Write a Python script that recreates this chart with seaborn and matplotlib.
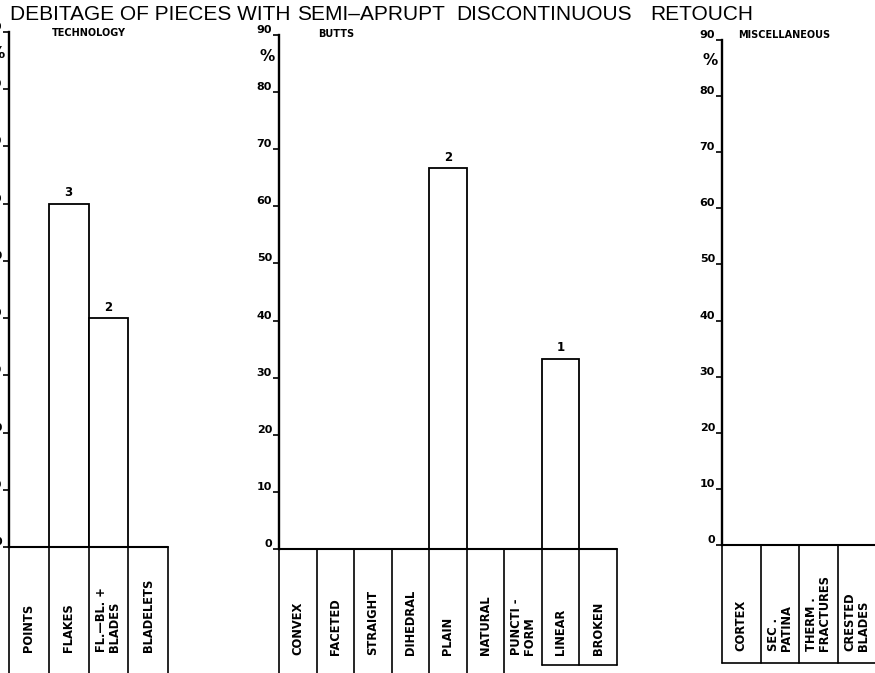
import matplotlib
matplotlib.use("Agg")
import matplotlib.pyplot as plt
import seaborn as sns

# ---- data -------------------------------------------------------------
tech_cats = ["POINTS", "FLAKES", "FL.—BL. +\nBLADES", "BLADELETS"]
tech_counts = [0, 3, 2, 0]

butt_cats = ["CONVEX", "FACETED", "STRAIGHT", "DIHEDRAL", "PLAIN",
             "NATURAL", "PUNCTI -\nFORM", "LINEAR", "BROKEN"]
butt_counts = [0, 0, 0, 0, 2, 0, 0, 1, 0]

misc_cats = ["CORTEX", "SEC .\nPATINA", "THERM .\nFRACTURES", "CRESTED\nBLADES"]
misc_counts = [0, 0, 0, 0]

y_ticks = [0, 10, 20, 30, 40, 50, 60, 70, 80, 90]

title_words = ["DEBITAGE OF PIECES WITH", "SEMI–APRUPT", "DISCONTINUOUS", "RETOUCH"]
title_x = [10, 297, 456, 650]


def percents(counts):
    total = sum(counts)
    return [100.0 * c / total if total else 0.0 for c in counts]


# ---- style ------------------------------------------------------------
sns.set_theme(style="white")
plt.rcParams["font.family"] = ["DejaVu Sans"]
plt.rcParams["text.color"] = "black"
plt.rcParams["axes.labelcolor"] = "black"
plt.rcParams["ytick.color"] = "black"
plt.rcParams["xtick.color"] = "black"

W, H = 875, 673
fig = plt.figure(figsize=(W / 100, H / 100), dpi=100)
fig.patch.set_facecolor("white")


def px_axes(x0, x1, y_zero, y_top, ymax=90):
    """Axes whose y data range reaches from the figure bottom up to ymax."""
    unit = (y_zero - y_top) / ymax            # pixels per percent
    ymin = -(H - y_zero) / unit
    ax = fig.add_axes([x0 / W, 0, (x1 - x0) / W, (H - y_top) / H])
    ax.set_ylim(ymin, ymax)
    return ax, unit


def panel(ax, cats, counts, unit, table_bottom_px=None, closed=None,
          closed_px=None, label_px=652):
    vals = percents(counts)
    n = len(cats)
    ymin = ax.get_ylim()[0]
    sns.barplot(x=list(range(n)), y=vals, ax=ax, color="white",
                edgecolor="black", linewidth=1.3, width=1.0,
                saturation=1, native_scale=True)
    ax.set_xlim(-0.5, n - 0.5)
    ax.set_ylim(ymin, 90)
    for s in ("top", "right", "bottom"):
        ax.spines[s].set_visible(False)
    ax.spines["left"].set_bounds(0, 90)
    ax.spines["left"].set_linewidth(1.7)
    ax.spines["left"].set_color("black")
    ax.set_xticks([])
    ax.set_xlabel("")
    ax.set_ylabel("")
    ax.set_yticks(y_ticks)
    ax.set_yticklabels([str(t) for t in y_ticks])
    ax.tick_params(axis="y", direction="out", length=4, width=1.2,
                   pad=1, labelsize=8, colors="black", left=True)
    for lab in ax.get_yticklabels():
        lab.set_fontweight("bold")
        lab.set_verticalalignment("bottom")
    ax.annotate("%", xy=(0, 86.3), xycoords=("axes fraction", "data"),
                xytext=(-3, 0), textcoords="offset points",
                ha="right", va="center", fontsize=11, fontweight="bold")

    def to_data(py, zero_px):
        return -(py - zero_px) / unit

    zero_px = H - (0 - ymin) * unit
    bottom = ymin if table_bottom_px is None else to_data(table_bottom_px, zero_px)
    cl_bottom = None if closed_px is None else to_data(closed_px, zero_px)

    # category table underneath the bars
    ax.plot([-0.5, n - 0.5], [0, 0], color="black", lw=1.5, clip_on=False)
    for i in range(n + 1):
        lo = bottom
        if closed is not None and min(closed) <= i <= max(closed) + 1:
            lo = cl_bottom
        ax.plot([i - 0.5, i - 0.5], [lo, 0], color="black", lw=1.2,
                clip_on=False)
    if table_bottom_px is not None:
        ax.plot([-0.5, n - 0.5], [bottom] * 2, color="black", lw=1.2,
                clip_on=False)
    if closed is not None:
        ax.plot([min(closed) - 0.5, max(closed) + 0.5], [cl_bottom] * 2,
                color="black", lw=1.2, clip_on=False)

    label_y = to_data(label_px, zero_px)
    for i, c in enumerate(cats):
        ax.text(i, label_y, c, rotation=90, ha="center", va="bottom",
                multialignment="left", fontsize=8.3, fontweight="bold",
                linespacing=1.0)

    # counts on top of the bars
    for i, (c, v) in enumerate(zip(counts, vals)):
        if c:
            ax.text(i, v + 0.8, str(c), ha="center", va="bottom",
                    fontsize=8.5, fontweight="bold")


ax1, u1 = px_axes(9, 168, 547, 32)
panel(ax1, tech_cats, tech_counts, u1, label_px=652)

ax2, u2 = px_axes(279, 617, 549, 35)
panel(ax2, butt_cats, butt_counts, u2, closed=[7, 8], closed_px=665,
      label_px=655)

ax3, u3 = px_axes(722, 876, 545, 40)
panel(ax3, misc_cats, misc_counts, u3, table_bottom_px=663, label_px=651)

# panel headings and main title
fig.text(89 / W, 1 - 33 / H, "TECHNOLOGY", ha="center", va="center",
         fontsize=7, fontweight="bold")
fig.text(336 / W, 1 - 34 / H, "BUTTS", ha="center", va="center",
         fontsize=7, fontweight="bold")
fig.text(738 / W, 1 - 35 / H, "MISCELLANEOUS", ha="left", va="center",
         fontsize=7, fontweight="bold")
for word, x in zip(title_words, title_x):
    fig.text(x / W, 1 - 15 / H, word, ha="left", va="center",
             fontsize=15, family=["Liberation Sans", "DejaVu Sans"])

fig.savefig("out.png", dpi=100, facecolor="white")
